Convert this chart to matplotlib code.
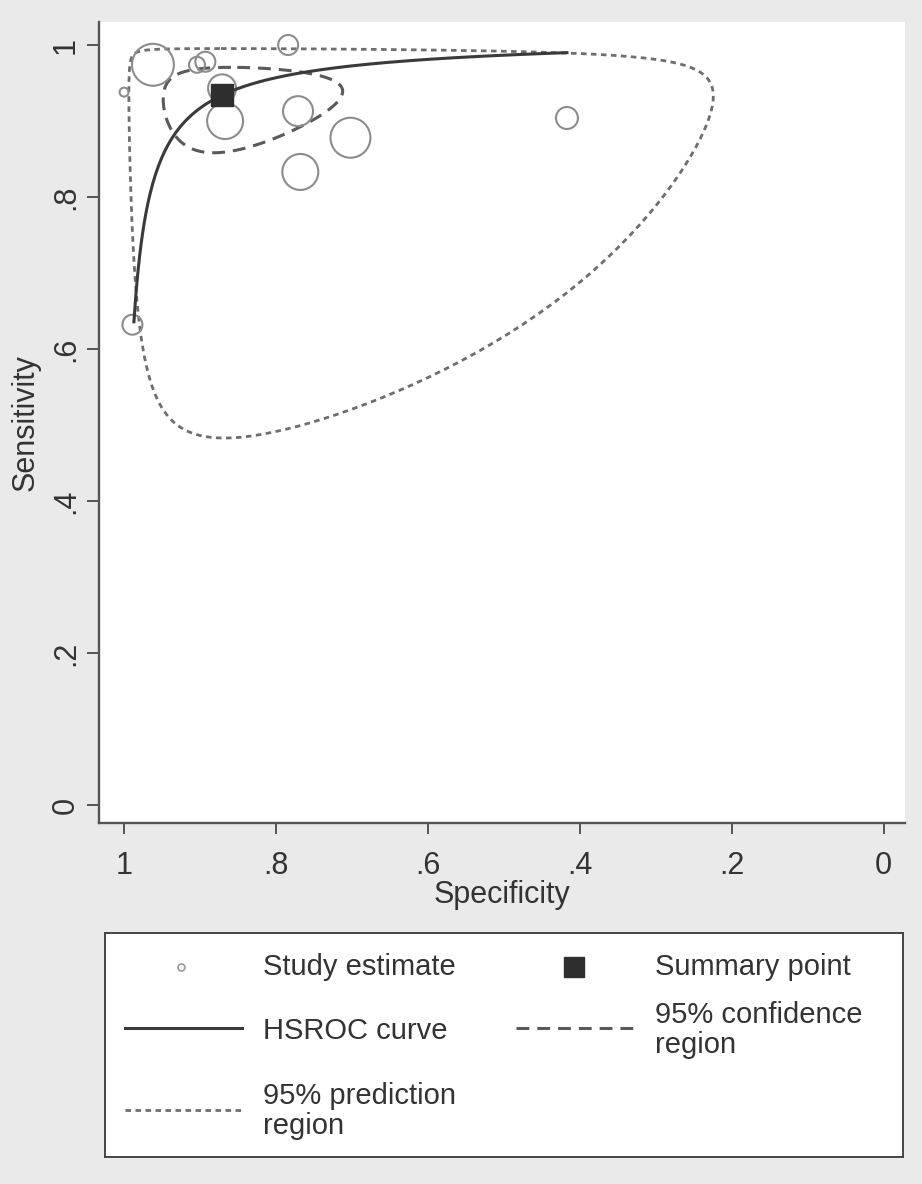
import numpy as np
import matplotlib
matplotlib.use('Agg')
import matplotlib.pyplot as plt

plt.rcParams['font.family'] = ['Liberation Sans', 'DejaVu Sans']

# study estimates
study_spec = [1.000, 0.962, 0.904, 0.893, 0.784, 0.871, 0.867, 0.771, 0.702, 0.768, 0.417, 0.989]
study_sens = [0.938, 0.974, 0.974, 0.978, 1.000, 0.943, 0.900, 0.913, 0.878, 0.833, 0.904, 0.632]
study_weight = [0.2, 4.4, 0.64, 1.0, 1.0, 1.96, 3.24, 2.25, 4.0, 3.24, 1.21, 1.0]

# bivariate model estimates (logit scale spreads)
summary_sens = 0.934
summary_spec = 0.871
se_logit_sens = 0.347
se_logit_spec = 0.41
corr_est = -0.1
sd_between_sens = 1.055
sd_between_spec = 1.22
corr_between = 0.02
curve_spec_range = [0.987, 0.417]

xticks = [1, 0.8, 0.6, 0.4, 0.2, 0]
xtick_labels = ['1', '.8', '.6', '.4', '.2', '0']
yticks = [0, 0.2, 0.4, 0.6, 0.8, 1]
ytick_labels = ['0', '.2', '.4', '.6', '.8', '1']

legend_labels = ['Study estimate', 'Summary point', 'HSROC curve',
                 '95% confidence\nregion', '95% prediction\nregion']


def logit(p):
    return np.log(p / (1 - p))


def expit(x):
    return 1 / (1 + np.exp(-x))


def region(sd_s, sd_p, rho, scale=np.sqrt(5.991)):
    t = np.linspace(0, 2 * np.pi, 400)
    ls = logit(summary_sens) + scale * sd_s * np.cos(t)
    lp = logit(summary_spec) + scale * sd_p * (rho * np.cos(t) + np.sqrt(1 - rho ** 2) * np.sin(t))
    return expit(lp), expit(ls)


W, H = 922, 1184
fig = plt.figure(figsize=(W / 100, H / 100), dpi=100, facecolor='#eaeaea')

# plot area in pixels
L, R, T, B = 99, 905, 22, 823
ax = fig.add_axes([L / W, 1 - B / H, (R - L) / W, (B - T) / H])
ax.set_facecolor('white')
ax.set_xlim(1.033, -0.028)
ax.set_ylim(-0.0237, 1.0303)

axis_col = '#555555'
text_col = '#333333'
for s in ['top', 'right']:
    ax.spines[s].set_visible(False)
for s in ['left', 'bottom']:
    ax.spines[s].set_color(axis_col)
    ax.spines[s].set_linewidth(1.7)

ax.set_xticks(xticks)
ax.set_xticklabels(xtick_labels)
ax.set_yticks(yticks)
ax.set_yticklabels(ytick_labels, rotation=90, va='center')
ax.tick_params(axis='x', direction='out', length=8, width=1.4, color=axis_col,
               labelsize=22, labelcolor=text_col, pad=12)
ax.tick_params(axis='y', direction='out', length=9, width=1.4, color=axis_col,
               labelsize=22, labelcolor=text_col, pad=4)

ax.set_xlabel('Specificity', fontsize=22, color=text_col)
ax.set_ylabel('Sensitivity', fontsize=22, color=text_col)
ax.xaxis.set_label_coords(0.5, (B - 895) / (B - T))
ax.xaxis.label.set_va('center')
ax.yaxis.set_label_coords((26 - L) / (R - L), 0.5)
ax.yaxis.label.set_va('center')

# prediction region
sd_ps = np.sqrt(sd_between_sens ** 2 + se_logit_sens ** 2)
sd_pp = np.sqrt(sd_between_spec ** 2 + se_logit_spec ** 2)
rho_p = (corr_between * sd_between_sens * sd_between_spec
         + corr_est * se_logit_sens * se_logit_spec) / (sd_ps * sd_pp)
px, py = region(sd_ps, sd_pp, rho_p)
pred_style = dict(color='#6e6e6e', lw=2.0, dashes=(2.0, 1.6))
ax.plot(px, py, **pred_style)

# confidence region
cx, cy = region(se_logit_sens, se_logit_spec, corr_est)
conf_style = dict(color='#5a5a5a', lw=2.2, dashes=(4.2, 2.6))
ax.plot(cx, cy, **conf_style)

# study estimates
ax.scatter(study_spec, study_sens, s=np.array(study_weight) * 207,
           facecolors='none', edgecolors='#8c8c8c', linewidths=1.5, zorder=3)

# HSROC curve
spec_line = np.linspace(curve_spec_range[0], curve_spec_range[1], 300)
slope = sd_between_sens / sd_between_spec
sens_line = expit(logit(summary_sens) - slope * (logit(spec_line) - logit(summary_spec)))
curve_style = dict(color='#3a3a3a', lw=2.2)
ax.plot(spec_line, sens_line, zorder=4, **curve_style)

# summary point
ax.plot([summary_spec], [summary_sens], marker='s', ms=16, color='#2e2e2e',
        linestyle='none', zorder=5)

# legend box drawn by hand
LL, LR, LT, LB = 105, 903, 933, 1157
lg = fig.add_axes([LL / W, 1 - LB / H, (LR - LL) / W, (LB - LT) / H])
lg.set_xlim(LL, LR)
lg.set_ylim(LB, LT)
lg.set_xticks([])
lg.set_yticks([])
lg.set_facecolor('white')
for s in lg.spines.values():
    s.set_color('#444444')
    s.set_linewidth(1.4)

fs = 21
lg.plot([181], [967], marker='o', ms=5, mfc='none', mec='#9a9a9a', mew=1.2)
lg.text(263, 967, legend_labels[0], fontsize=fs, color=text_col, va='center')
lg.plot([574], [967], marker='s', ms=15, color='#2e2e2e')
lg.text(655, 967, legend_labels[1], fontsize=fs, color=text_col, va='center')
lg.plot([125, 242], [1028, 1028], **curve_style)
lg.text(263, 1031, legend_labels[2], fontsize=fs, color=text_col, va='center')
lg.plot([516, 637], [1028, 1028], **conf_style)
lg.text(655, 1030, legend_labels[3], fontsize=fs, color=text_col, va='center',
        linespacing=1.1)
lg.plot([125, 242], [1110, 1110], **pred_style)
lg.text(263, 1111, legend_labels[4], fontsize=fs, color=text_col, va='center',
        linespacing=1.1)

fig.savefig('out.png', dpi=100, facecolor=fig.get_facecolor())
